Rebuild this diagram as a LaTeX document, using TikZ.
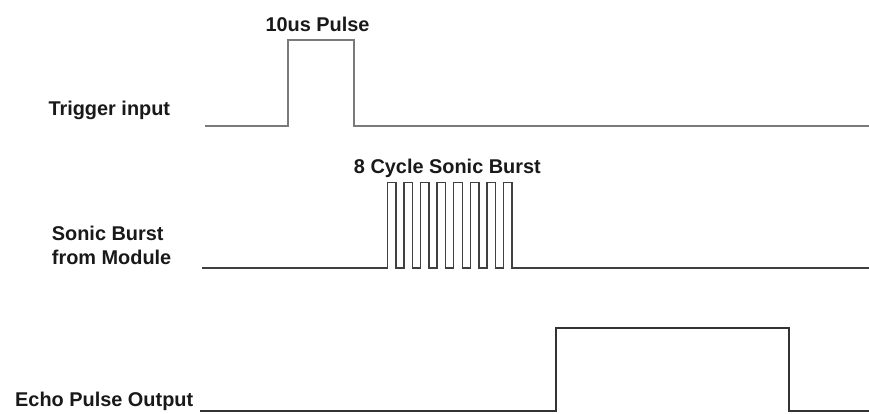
\documentclass[tikz,border=0pt]{standalone}
\usepackage{fontspec}
\setmainfont{Liberation Sans}
\begin{document}
\begin{tikzpicture}[x=1pt,y=-1pt,
  lab/.style={font=\bfseries\fontsize{19.9}{23}\selectfont, inner sep=0pt, anchor=base west, text=black!90},
  ctrlab/.style={font=\bfseries\fontsize{19.9}{23}\selectfont, inner sep=0pt, anchor=base, text=black!90},
  trigwave/.style={draw=black!52, line width=2pt, line join=miter},
  burstwave/.style={draw=black!75, line width=1.5pt, line join=miter},
  echowave/.style={draw=black!80, line width=2pt, line join=miter}]
\useasboundingbox[fill=white] (0,0) rectangle (869,413);

% labels
\node[lab] (trig) at (48.3,115) {Trigger input};
\node[ctrlab] (pulse) at (317.5,31) {10us Pulse};
\node[lab] (burstA) at (51.7,240.7) {Sonic Burst};
\node[lab] (burstB) at (51.7,264) {from Module};
\node[ctrlab] (cycle) at (447.4,173.3) {8 Cycle Sonic Burst};
\node[lab] (echo) at (15,406.7) {Echo Pulse Output};

% trigger waveform
\draw[trigwave] (205,126) -- (288,126) -- (288,40) -- (354,40) -- (354,126) -- (869,126);

% sonic burst waveform
\draw[burstwave] (202,268) foreach \i in {0,...,7} {
    -- ({387.3+16.6*\i},268) -- ++(0,-85.3) -- ++(8.6,0) -- ++(0,85.3) } -- (869,268);

% echo waveform
\draw[echowave] (200,411) -- (556,411) -- (556,328) -- (788.7,328) -- (788.7,411) -- (869,411);
\end{tikzpicture}
\end{document}
